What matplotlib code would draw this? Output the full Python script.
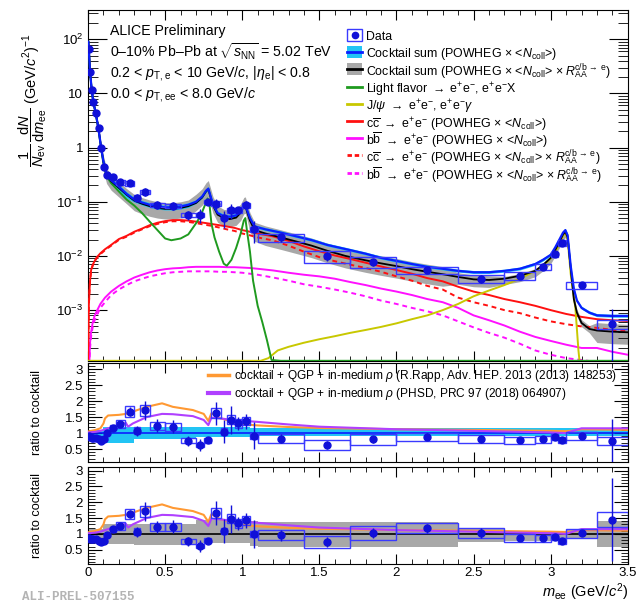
import numpy as np
import matplotlib
matplotlib.use('Agg')
import matplotlib.pyplot as plt
from matplotlib.patches import Rectangle
from matplotlib.lines import Line2D
from matplotlib.ticker import MultipleLocator, FixedLocator, LogLocator, FuncFormatter, NullFormatter

plt.rcParams['font.family'] = ['Liberation Sans', 'DejaVu Sans']
plt.rcParams['mathtext.fontset'] = 'custom'
plt.rcParams['mathtext.rm'] = 'Liberation Sans'
plt.rcParams['mathtext.it'] = 'Liberation Sans:italic'
plt.rcParams['mathtext.bf'] = 'Liberation Sans:bold'

# ---------------- data points ----------------
m_data = [0.005, 0.015, 0.025, 0.035, 0.05, 0.07, 0.085, 0.105, 0.125, 0.16, 0.21, 0.27, 0.32, 0.37,
          0.45, 0.55, 0.65, 0.725, 0.775, 0.83, 0.88, 0.925, 0.975, 1.025, 1.075, 1.25, 1.55, 1.85,
          2.2, 2.55, 2.8, 2.95, 3.025, 3.075, 3.2, 3.4]
bin_edges = [0, 0.01, 0.02, 0.03, 0.04, 0.06, 0.08, 0.09, 0.12, 0.14, 0.18, 0.24, 0.3, 0.34, 0.4, 0.5,
             0.6, 0.7, 0.75, 0.8, 0.86, 0.9, 0.95, 1.0, 1.05, 1.1, 1.4, 1.7, 2.0, 2.4, 2.7, 2.9, 3.0,
             3.05, 3.1, 3.3, 3.5]
y_data = [67, 24.8, 11.4, 7.1, 4.3, 2.3, 1.0, 0.43, 0.31, 0.29, 0.228, 0.222, 0.12, 0.153, 0.088,
          0.084, 0.057, 0.057, 0.10, 0.093, 0.051, 0.070, 0.070, 0.087, 0.031, 0.022, 0.010, 0.0078,
          0.0054, 0.0038, 0.0043, 0.0063, 0.0107, 0.0177, 0.0029, 0.00055]
stat_rel = [0.03, 0.03, 0.03, 0.04, 0.04, 0.05, 0.06, 0.07, 0.06, 0.06, 0.06, 0.08, 0.15, 0.17, 0.16,
            0.17, 0.2, 0.3, 0.12, 0.22, 0.35, 0.3, 0.15, 0.17, 0.45, 0.18, 0.2, 0.15, 0.12, 0.15,
            0.1, 0.07, 0.06, 0.05, 0.1, 0.9]
sys_rel = [0.05, 0.05, 0.05, 0.05, 0.05, 0.05, 0.05, 0.05, 0.06, 0.07, 0.1, 0.1, 0.1, 0.1, 0.1, 0.1,
           0.1, 0.1, 0.1, 0.1, 0.1, 0.1, 0.1, 0.1, 0.1, 0.17, 0.25, 0.22, 0.14, 0.15, 0.16, 0.14,
           0.11, 0.12, 0.14, 0.17]
ratio_cs = [0.91, 0.87, 0.86, 0.86, 0.85, 0.80, 0.76, 0.80, 0.99, 1.17, 1.28, 1.67, 1.07, 1.71, 1.23,
            1.20, 0.76, 0.625, 0.78, 1.62, 1.04, 1.41, 1.30, 1.375, 0.92, 0.83, 0.625, 0.80, 0.885,
            0.82, 0.77, 0.80, 0.87, 0.77, 0.91, 0.75]
ratio_raa = [0.87, 0.85, 0.84, 0.84, 0.84, 0.78, 0.75, 0.78, 0.96, 1.14, 1.25, 1.62, 1.07, 1.71, 1.22,
             1.22, 0.76, 0.63, 0.78, 1.66, 1.09, 1.48, 1.33, 1.43, 0.99, 0.96, 0.75, 1.02, 1.18,
             1.04, 0.87, 0.86, 0.89, 0.78, 1.02, 1.45]

# ---------------- cocktail sums ----------------
m_cs = [0.002, 0.005, 0.013, 0.024, 0.034, 0.05, 0.067, 0.084, 0.1, 0.12,
        0.15, 0.2, 0.25, 0.3, 0.35, 0.4, 0.45, 0.5, 0.55, 0.6,
        0.65, 0.7, 0.74, 0.765, 0.78, 0.79, 0.81, 0.84, 0.88, 0.92,
        0.96, 0.99, 1.01, 1.02, 1.03, 1.05, 1.08, 1.15, 1.25, 1.35,
        1.45, 1.55, 1.67, 1.8, 1.9, 2.0, 2.1, 2.2, 2.3, 2.4,
        2.5, 2.6, 2.7, 2.8, 2.9, 2.95, 3.0, 3.03, 3.06, 3.08,
        3.095, 3.11, 3.13, 3.15, 3.17, 3.2, 3.25, 3.3, 3.4, 3.5]
cocktail_sum = [90, 67, 25, 11.5, 7, 4.3, 2.3, 1.05, 0.55, 0.33,
                0.25, 0.19, 0.14, 0.11, 0.097, 0.088, 0.082, 0.079, 0.079, 0.082,
                0.088, 0.1, 0.125, 0.16, 0.175, 0.14, 0.09, 0.062, 0.054, 0.053,
                0.056, 0.068, 0.088, 0.09, 0.072, 0.05, 0.035, 0.031, 0.027, 0.023,
                0.0196, 0.016, 0.0134, 0.011, 0.0092, 0.0081, 0.0071, 0.0063, 0.0058, 0.0053,
                0.005, 0.005, 0.0053, 0.0058, 0.0071, 0.0085, 0.0105, 0.0145, 0.021, 0.027,
                0.03, 0.024, 0.0065, 0.0025, 0.0015, 0.0011, 0.0009, 0.0008, 0.00078, 0.00078]
cocktail_raa = [90, 67, 25, 11.5, 7, 4.3, 2.3, 1.04, 0.54, 0.32,
                0.24, 0.18, 0.135, 0.105, 0.092, 0.083, 0.077, 0.074, 0.074, 0.077,
                0.083, 0.095, 0.12, 0.155, 0.17, 0.135, 0.086, 0.058, 0.05, 0.048,
                0.051, 0.063, 0.083, 0.085, 0.067, 0.045, 0.03, 0.026, 0.022, 0.0185,
                0.0155, 0.0125, 0.010, 0.0083, 0.0073, 0.0065, 0.0057, 0.0051, 0.0046, 0.0041,
                0.0037, 0.0036, 0.0038, 0.0043, 0.0053, 0.0068, 0.0092, 0.013, 0.019, 0.025,
                0.028, 0.022, 0.0058, 0.0016, 0.0009, 0.00058, 0.00045, 0.00042, 0.0004, 0.00039]

# relative uncertainty bands (ratio to cocktail), per mass interval
band_edges = [0, 0.1, 0.3, 0.7, 1.05, 1.1, 2.4, 2.7, 3.1, 3.3, 3.5]
cyan_lo = [0.85, 0.70, 0.80, 0.87, 0.90, 0.90, 0.90, 0.90, 0.90, 0.90]
cyan_hi = [1.10, 1.20, 1.20, 1.20, 1.16, 1.16, 1.16, 1.16, 1.16, 1.16]
gray_lo = [0.82, 0.68, 0.65, 0.72, 0.62, 0.60, 0.73, 0.78, 0.85, 0.60]
gray_hi = [1.15, 1.30, 1.30, 1.45, 1.40, 1.38, 1.20, 1.10, 1.15, 1.40]

# ---------------- individual sources ----------------
m_lf = [0.002, 0.005, 0.013, 0.024, 0.034, 0.05, 0.067, 0.084, 0.1, 0.12, 0.15, 0.2, 0.25, 0.3,
        0.35, 0.4, 0.45, 0.5, 0.54, 0.6, 0.65, 0.7, 0.73, 0.76, 0.775, 0.785, 0.8, 0.82, 0.85,
        0.88, 0.9, 0.93, 0.96, 0.99, 1.01, 1.02, 1.03, 1.05, 1.07, 1.1, 1.13, 1.16, 1.19, 1.25, 3.5]
light_flavor = [90, 67, 25, 11.5, 7, 4.2, 2.2, 1.0, 0.5, 0.30, 0.22, 0.155, 0.11, 0.085,
                0.062, 0.043, 0.03, 0.021, 0.0195, 0.021, 0.025, 0.04, 0.055, 0.09, 0.115, 0.105,
                0.04, 0.022, 0.012, 0.0072, 0.0066, 0.0085, 0.014, 0.026, 0.045, 0.05, 0.03, 0.012,
                0.0035, 0.0012, 0.0006, 0.00028, 0.00012, 0.000116, 0.000116]

m_jpsi = [0.0, 1.12, 1.17, 1.23, 1.3, 1.4, 1.5, 1.6, 1.7, 1.8, 1.9, 2.0, 2.1, 2.2, 2.3, 2.4, 2.5, 2.6,
          2.7, 2.8, 2.9, 2.95, 3.0, 3.03, 3.06, 3.08, 3.095, 3.11, 3.13, 3.16, 3.18, 3.2]
jpsi = [0.000116, 0.000116, 0.00013, 0.00018, 0.00021, 0.00025, 0.00029, 0.00033, 0.00038, 0.00043,
        0.00049, 0.00057, 0.00068, 0.0008, 0.001, 0.0013, 0.0018, 0.0023, 0.0029, 0.0038, 0.0053,
        0.0065, 0.009, 0.012, 0.0166, 0.024, 0.027, 0.02, 0.0046, 0.0011, 0.00018, 0.00005]

m_hf = [0.0, 0.005, 0.01, 0.013, 0.02, 0.03, 0.04, 0.056, 0.08, 0.11,
        0.15, 0.2, 0.25, 0.3, 0.35, 0.4, 0.45, 0.5, 0.55, 0.6,
        0.65, 0.7, 0.75, 0.8, 0.85, 0.9, 0.95, 1.0, 1.05, 1.1,
        1.2, 1.3, 1.4, 1.5, 1.6, 1.7, 1.8, 1.9, 2.0, 2.1,
        2.2, 2.3, 2.4, 2.5, 2.6, 2.7, 2.8, 2.9, 3.0, 3.1,
        3.2, 3.3, 3.4, 3.5]
ccbar = [0.0001, 0.0012, 0.0025, 0.0035, 0.0055, 0.0068, 0.0078, 0.0094, 0.0112, 0.0133,
         0.016, 0.0205, 0.0235, 0.028, 0.032, 0.037, 0.041, 0.044, 0.046, 0.046,
         0.045, 0.043, 0.041, 0.039, 0.037, 0.035, 0.033, 0.030, 0.028, 0.026,
         0.023, 0.019, 0.015, 0.0122, 0.0102, 0.0088, 0.0075, 0.0064, 0.0055, 0.0047,
         0.0039, 0.0034, 0.0027, 0.0022, 0.0019, 0.0016, 0.0014, 0.0012, 0.001, 0.00085,
         0.00075, 0.00068, 0.00065, 0.00063]
ccbar_raa = [0.0001, 0.0012, 0.0025, 0.0034, 0.0053, 0.0066, 0.0076, 0.0091, 0.0108, 0.0128,
             0.0155, 0.0198, 0.0227, 0.027, 0.031, 0.0355, 0.039, 0.042, 0.0437, 0.0437,
             0.0425, 0.0405, 0.038, 0.036, 0.0335, 0.031, 0.029, 0.026, 0.024, 0.022,
             0.0193, 0.0155, 0.012, 0.0095, 0.008, 0.0069, 0.006, 0.0051, 0.0042, 0.0035,
             0.0028, 0.0024, 0.0017, 0.0014, 0.0012, 0.001, 0.00088, 0.00073, 0.00062, 0.00055,
             0.0005, 0.00047, 0.00043, 0.00041]
bbbar = [0.00001, 0.00005, 0.00015, 0.00025, 0.0004, 0.00058, 0.00075, 0.00095, 0.0013, 0.0017,
         0.0022, 0.0028, 0.0034, 0.004, 0.0045, 0.005, 0.0054, 0.0057, 0.0059, 0.006,
         0.0062, 0.0063, 0.0063, 0.0063, 0.0063, 0.0062, 0.0062, 0.0061, 0.006, 0.0058,
         0.0054, 0.0049, 0.0045, 0.0042, 0.0038, 0.0033, 0.0029, 0.0025, 0.0022, 0.0019,
         0.0016, 0.0014, 0.0011, 0.0008, 0.00065, 0.00052, 0.0004, 0.00032, 0.00027, 0.00023,
         0.0002, 0.0002, 0.00017, 0.00015]
bbbar_raa = [0.00001, 0.00004, 0.00013, 0.0002, 0.00033, 0.00048, 0.00062, 0.0008, 0.0011, 0.0014,
             0.0019, 0.0024, 0.0029, 0.0034, 0.0038, 0.0042, 0.0045, 0.0048, 0.005, 0.0051,
             0.0052, 0.0052, 0.0052, 0.0052, 0.0051, 0.0051, 0.005, 0.0049, 0.0047, 0.0045,
             0.004, 0.0035, 0.003, 0.0027, 0.0024, 0.0021, 0.0018, 0.0015, 0.0013, 0.0011,
             0.00095, 0.0008, 0.00062, 0.00048, 0.00038, 0.00031, 0.00024, 0.00018, 0.00015, 0.00013,
             0.00012, 0.00011, 0.0001, 0.0001]

# ---------------- model ratios ----------------
m_model = [0.0, 0.05, 0.08, 0.1, 0.11, 0.13, 0.2, 0.245, 0.26, 0.29, 0.38, 0.48, 0.55, 0.68, 0.75,
           0.78, 0.80, 0.855, 0.94, 1.02, 1.1, 1.3, 1.5, 2.0, 2.5, 3.0, 3.1, 3.15, 3.2, 3.5]
rapp = [1.05, 1.1, 1.15, 1.3, 1.46, 1.55, 1.57, 1.6, 1.62, 1.67, 1.82, 1.93, 1.82, 1.72, 1.6,
        1.38, 1.62, 1.47, 1.35, 1.27, 1.24, 1.19, 1.16, 1.12, 1.1, 1.07, 1.06, 1.08, 1.12, 1.1]
phsd = [1.02, 1.04, 1.07, 1.1, 1.12, 1.15, 1.25, 1.32, 1.2, 1.3, 1.5, 1.6, 1.59, 1.53, 1.41,
        1.25, 1.48, 1.46, 1.41, 1.38, 1.35, 1.27, 1.2, 1.12, 1.07, 1.02, 1.0, 1.08, 1.15, 1.15]

# ---------------- styles ----------------
C_DATA = '#1010d8'
C_BOX = '#3a3aff'
C_BLUE = '#0a1eff'
C_CYAN = '#22c4f4'
C_GRAY = '#a8a8a8'
C_GREEN = '#1f9a1f'
C_YEL = '#c8c800'
C_RED = '#ff1010'
C_MAG = '#ff10ff'
C_ORANGE = '#ff9933'
C_PURPLE = '#b040ff'
XMAX = 3.5
W, H = 638.0, 603.0

fig = plt.figure(figsize=(6.38, 6.03), dpi=100)
ax0 = fig.add_axes([0.138, 0.401, 0.846, 0.582])
ax1 = fig.add_axes([0.138, 0.234, 0.846, 0.164])
ax2 = fig.add_axes([0.138, 0.0647, 0.846, 0.1608])

m_cs_a = np.array(m_cs)
bidx = np.clip(np.searchsorted(band_edges, m_cs_a, side='right') - 1, 0, len(cyan_lo) - 1)
cs = np.array(cocktail_sum)
cr = np.array(cocktail_raa)

# main panel
ax0.fill_between(m_cs, cr * np.array(gray_lo)[bidx], cr * np.array(gray_hi)[bidx],
                 color=C_GRAY, lw=0, zorder=1)
ax0.fill_between(m_cs, cs * np.array(cyan_lo)[bidx] ** 0.5, cs * np.array(cyan_hi)[bidx] ** 0.5,
                 color=C_CYAN, lw=0, zorder=2)
ax0.plot(m_hf, bbbar, color=C_MAG, lw=1.4, zorder=3)
ax0.plot(m_hf, bbbar_raa, color=C_MAG, lw=1.4, ls=(0, (2.5, 2)), zorder=3)
ax0.plot(m_hf, ccbar, color=C_RED, lw=1.4, zorder=3)
ax0.plot(m_hf, ccbar_raa, color=C_RED, lw=1.4, ls=(0, (2.5, 2)), zorder=3)
ax0.plot(m_jpsi, jpsi, color=C_YEL, lw=1.4, zorder=4)
ax0.plot(m_lf, light_flavor, color=C_GREEN, lw=1.4, zorder=4)
ax0.plot(m_cs, cocktail_raa, color='black', lw=1.3, zorder=5)
ax0.plot(m_cs, cocktail_sum, color=C_BLUE, lw=1.6, zorder=6)

yd = np.array(y_data)
for i, (y, s) in enumerate(zip(y_data, sys_rel)):
    lo, hi = bin_edges[i], bin_edges[i + 1]
    ax0.add_patch(Rectangle((lo, y * (1 - s)), hi - lo, 2 * s * y, fc='none', ec=C_BOX,
                            lw=1.0, zorder=7))
ax0.errorbar(m_data, y_data, yerr=yd * np.array(stat_rel), fmt='o', color=C_DATA, ms=5,
             elinewidth=1.0, capsize=0, zorder=8)

ax0.set_yscale('log')
ax0.set_xlim(0, XMAX)
ax0.set_ylim(1.14e-4, 344)


def logfmt(v, pos):
    e = int(round(np.log10(v)))
    if e == 0:
        return '1'
    if e == 1:
        return '10'
    return r'$10^{%d}$' % e


ax0.yaxis.set_major_locator(FixedLocator([1e-3, 1e-2, 1e-1, 1, 10, 100]))
ax0.yaxis.set_minor_locator(LogLocator(base=10, subs=np.arange(2, 10), numticks=20))
ax0.yaxis.set_major_formatter(FuncFormatter(logfmt))
ax0.yaxis.set_minor_formatter(NullFormatter())

for ax in (ax0, ax1, ax2):
    ax.set_xlim(0, XMAX)
    ax.xaxis.set_major_locator(MultipleLocator(0.5))
    ax.xaxis.set_minor_locator(MultipleLocator(0.1))
    ax.tick_params(which='both', direction='in', top=True, right=True, labelsize=9.5)
    ax.tick_params(axis='x', which='major', length=7)
    ax.tick_params(axis='x', which='minor', length=3.5)
ax0.tick_params(axis='y', which='major', length=14)
ax0.tick_params(axis='y', which='minor', length=7)
ax0.tick_params(labelbottom=False)
ax1.tick_params(labelbottom=False)

# ---------------- main legend (ROOT-like, evenly spaced rows) ----------------
ncoll = r'<$N_{\rm coll}$>'
raa = r'$R_{\rm AA}\!\!\!\!\!\!\!{}^{\rm c/b\,\rightarrow\,e}$'
leg_labels = ['Data',
              r'Cocktail sum (POWHEG $\times$ ' + ncoll + ')',
              r'Cocktail sum (POWHEG $\times$ ' + ncoll + r' $\times$ ' + raa + ')',
              r'Light flavor $\rightarrow$ e$^{+}$e$^{-}$, e$^{+}$e$^{-}$X',
              r'J/$\psi$ $\rightarrow$ e$^{+}$e$^{-}$, e$^{+}$e$^{-}\gamma$',
              r'c$\overline{\rm c}$ $\rightarrow$ e$^{+}$e$^{-}$ (POWHEG $\times$ ' + ncoll + ')',
              r'b$\overline{\rm b}$ $\rightarrow$ e$^{+}$e$^{-}$ (POWHEG $\times$ ' + ncoll + ')',
              r'c$\overline{\rm c}$ $\rightarrow$ e$^{+}$e$^{-}$ (POWHEG $\times$ ' + ncoll + r' $\times$ ' + raa + ')',
              r'b$\overline{\rm b}$ $\rightarrow$ e$^{+}$e$^{-}$ (POWHEG $\times$ ' + ncoll + r' $\times$ ' + raa + ')']
leg_kind = ['data', 'band', 'band', 'line', 'line', 'line', 'line', 'dash', 'dash']
leg_fill = [None, C_CYAN, C_GRAY, None, None, None, None, None, None]
leg_color = [C_DATA, C_BLUE, 'black', C_GREEN, C_YEL, C_RED, C_MAG, C_RED, C_MAG]
leg_y = [35.0, 52.0, 69.0, 87.0, 104.0, 121.0, 138.0, 155.0, 173.0]

hx0, hx1, tx = 347.0, 362.0, 366.0
for lab, kind, fc, col, yc in zip(leg_labels, leg_kind, leg_fill, leg_color, leg_y):
    fy = 1 - yc / H
    if kind == 'data':
        fig.patches.append(Rectangle((hx0 / W, 1 - (yc + 5.5) / H), (hx1 - hx0) / W, 11 / H,
                                     transform=fig.transFigure, fc='none', ec=C_BOX, lw=1.0))
        fig.lines.append(Line2D([(hx0 + hx1) / 2 / W], [fy], marker='o', ms=4.5, color=col,
                                ls='', transform=fig.transFigure))
    elif kind == 'band':
        fig.patches.append(Rectangle((hx0 / W, 1 - (yc + 5.5) / H), (hx1 - hx0) / W, 11 / H,
                                     transform=fig.transFigure, fc=fc, ec='none'))
        fig.lines.append(Line2D([hx0 / W, hx1 / W], [fy, fy], color=col, lw=2,
                                transform=fig.transFigure))
    elif kind == 'line':
        fig.lines.append(Line2D([hx0 / W, hx1 / W], [fy, fy], color=col, lw=2,
                                transform=fig.transFigure))
    else:
        fig.lines.append(Line2D([hx0 / W, hx1 / W], [fy, fy], color=col, lw=2,
                                ls=(0, (1.6, 1.0)), transform=fig.transFigure))
    fig.text(tx / W, fy, lab, fontsize=8.9, va='center_baseline', ha='left')

# header texts
fs_t = 10.2
fig.text(110 / W, 1 - 31 / H, 'ALICE Preliminary', fontsize=fs_t, va='center')
fig.text(110 / W, 1 - 52 / H, r'0–10% Pb–Pb at $\sqrt{s_{\rm NN}}$ = 5.02 TeV', fontsize=fs_t, va='center')
fig.text(110 / W, 1 - 73 / H, r'0.2 < $p_{\rm T,e}$ < 10 GeV/$c$, |$\eta_{\rm e}$| < 0.8', fontsize=fs_t, va='center')
fig.text(110 / W, 1 - 94 / H, r'0.0 < $p_{\rm T,ee}$ < 8.0 GeV/$c$', fontsize=fs_t, va='center')

fig.text(33 / W, 1 - 100 / H,
         r'$\dfrac{1}{N_{\rm ev}}\,\dfrac{{\rm d}N}{{\rm d}m_{\rm ee}}$ (GeV/$c^{2}$)$^{-1}$',
         rotation=90, fontsize=10.5, ha='center', va='center')


def ratio_panel(ax, rvals, lo_list, hi_list, band_color, line_color, ylim):
    ax.fill_between(band_edges, list(lo_list) + [lo_list[-1]], list(hi_list) + [hi_list[-1]],
                    step='post', color=band_color, lw=0, zorder=1)
    ax.axhline(1, color=line_color, lw=1.2, zorder=2)
    ax.plot(m_model, rapp, color=C_ORANGE, lw=1.5, zorder=3)
    ax.plot(m_model, phsd, color=C_PURPLE, lw=1.5, zorder=3)
    rv = np.array(rvals)
    for i, (r, s) in enumerate(zip(rvals, sys_rel)):
        lo, hi = bin_edges[i], bin_edges[i + 1]
        ax.add_patch(Rectangle((lo, r * (1 - s)), hi - lo, 2 * s * r, fc='none', ec=C_BOX,
                               lw=1.0, zorder=4))
    ax.errorbar(m_data, rvals, yerr=rv * np.array(stat_rel), fmt='o', color=C_DATA, ms=5,
                elinewidth=1.0, capsize=0, zorder=5)
    ax.set_ylim(*ylim)
    ax.yaxis.set_major_locator(FixedLocator([0.5, 1.0, 1.5, 2.0, 2.5, 3.0]))
    ax.yaxis.set_minor_locator(MultipleLocator(0.1))
    ax.yaxis.set_major_formatter(FuncFormatter(lambda v, p: '%g' % v))
    ax.tick_params(axis='y', which='major', length=10)
    ax.tick_params(axis='y', which='minor', length=5)
    ax.set_ylabel('ratio to cocktail', fontsize=9.2)
    ax.yaxis.set_label_coords(-0.083, 0.5)


ratio_panel(ax1, ratio_cs, cyan_lo, cyan_hi, C_CYAN, C_BLUE, (0.1, 3.19))
ratio_panel(ax2, ratio_raa, gray_lo, gray_hi, C_GRAY, 'black', (0.05, 3.11))

ax1.legend([Line2D([], [], color=C_ORANGE, lw=2.5), Line2D([], [], color=C_PURPLE, lw=3)],
           [r'cocktail + QGP + in-medium $\rho$ (R.Rapp, Adv. HEP. 2013 (2013) 148253)',
            r'cocktail + QGP + in-medium $\rho$ (PHSD, PRC 97 (2018) 064907)'],
           loc='upper left', bbox_to_anchor=(0.222, 0.95), frameon=False, fontsize=8.6,
           handlelength=1.8, handletextpad=0.4, labelspacing=0.15, borderaxespad=0, borderpad=0)

ax2.xaxis.set_major_formatter(FuncFormatter(lambda v, p: '%g' % v))
ax2.tick_params(axis='x', pad=2)
fig.text(628 / W, 1 - 592 / H, r'$m_{\rm ee}$ (GeV/$c^{2}$)', fontsize=10.5, ha='right', va='center')
fig.text(22 / W, 1 - 597 / H, 'ALI-PREL-507155', family='Liberation Mono', weight='bold',
         color='#b4b4b4', fontsize=9, va='center')

fig.savefig('out.png', dpi=100)
